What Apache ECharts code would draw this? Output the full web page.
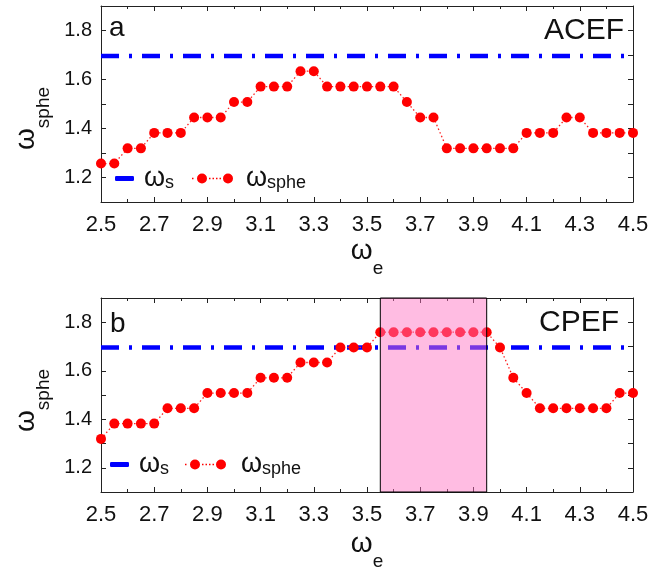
<!DOCTYPE html>
<html><head><meta charset="utf-8">
<script src="https://cdn.jsdelivr.net/npm/echarts@6/dist/echarts.min.js"></script>
<style>html,body{margin:0;padding:0;background:#fff}#c{width:650px;height:573px}</style>
</head><body><div id="c"></div>
<script>
// ---- data ----
const omegaE = [2.50,2.55,2.60,2.65,2.70,2.75,2.80,2.85,2.90,2.95,3.00,3.05,3.10,3.15,3.20,3.25,3.30,3.35,3.40,3.45,
  3.50,3.55,3.60,3.65,3.70,3.75,3.80,3.85,3.90,3.95,4.00,4.05,4.10,4.15,4.20,4.25,4.30,4.35,4.40,4.45,4.50];
const omegaSpheACEF = [1.257,1.257,1.319,1.319,1.382,1.382,1.382,1.445,1.445,1.445,1.508,1.508,1.571,1.571,1.571,1.634,1.634,1.571,1.571,1.571,
  1.571,1.571,1.571,1.508,1.445,1.445,1.319,1.319,1.319,1.319,1.319,1.319,1.382,1.382,1.382,1.445,1.445,1.382,1.382,1.382,1.382];
const omegaSpheCPEF = [1.319,1.382,1.382,1.382,1.382,1.445,1.445,1.445,1.508,1.508,1.508,1.508,1.571,1.571,1.571,1.634,1.634,1.634,1.696,1.696,
  1.696,1.759,1.759,1.759,1.759,1.759,1.759,1.759,1.759,1.759,1.696,1.571,1.508,1.445,1.445,1.445,1.445,1.445,1.445,1.508,1.508];
const omegaSX = [2.5, 4.5];
const omegaSY = [1.696, 1.696];
const shadedRangeCPEF = [3.55, 3.95];
const yTickLabels = ['1.2','1.4','1.6','1.8'];
const panelLetters = ['a','b'];
const panelTags = ['ACEF','CPEF'];
const seriesNames = ['ωs','ωsphe'];

// ---- chart ----
const FONT = "'Liberation Sans', Arial, sans-serif";
const grids = [
  {left:101, top:6, width:532, height:196},
  {left:101, top:298, width:532, height:194}
];
const axisColor = '#222';
const nameRich = {
  w:{fontSize:28, lineHeight:28, verticalAlign:'top', fontFamily:FONT, color:'#111'},
  s:{fontSize:19, lineHeight:19, verticalAlign:'top', padding:[22,0,0,0], fontFamily:FONT, color:'#111'}
};
const xAxes = [], yAxes = [];
const xNameGap = [35, 38];
const yNamePad = [29, 11];
grids.forEach((g, gi) => {
  const base = {
    type:'value', gridIndex:gi, min:2.5, max:4.5, interval:0.2,
    axisLine:{show:true, onZero:false, lineStyle:{color:axisColor, width:1}},
    axisTick:{show:true, inside:true, length:5, lineStyle:{color:axisColor}},
    minorTick:{show:true, splitNumber:2, length:3, lineStyle:{color:axisColor}},
    splitLine:{show:false}
  };
  xAxes.push(Object.assign({}, base, {
    position:'bottom',
    axisLabel:{fontSize:22, color:'#111', fontFamily:FONT, margin:12, formatter:v => Number(v).toFixed(1)},
    name:'{w|ω}{s|e}', nameLocation:'middle', nameGap:xNameGap[gi],
    nameTextStyle:{rich:nameRich}
  }));
  xAxes.push(Object.assign({}, base, {position:'top', axisLabel:{show:false}}));
  const ybase = {
    type:'value', gridIndex:gi, min:1.1, max:1.9, interval:0.1,
    axisLine:{show:true, onZero:false, lineStyle:{color:axisColor, width:1}},
    axisTick:{show:true, inside:true, length:5, lineStyle:{color:axisColor}},
    splitLine:{show:false}
  };
  yAxes.push(Object.assign({}, ybase, {
    position:'left',
    axisLabel:{fontSize:20, color:'#111', fontFamily:FONT, margin:9,
      formatter:v => { const t = Number(v).toFixed(1); return yTickLabels.indexOf(t) >= 0 ? t : ''; }},
    name:'{w|ω}{s|sphe}', nameLocation:'middle', nameGap:56,
    nameTextStyle:{rich:nameRich, padding:[0, yNamePad[gi], 0, 0]}
  }));
  yAxes.push(Object.assign({}, ybase, {position:'right', axisLabel:{show:false}}));
});

const spheData = [omegaSpheACEF, omegaSpheCPEF];
const series = [];
grids.forEach((g, gi) => {
  series.push({
    name:seriesNames[0], type:'line', xAxisIndex:gi*2, yAxisIndex:gi*2,
    data:omegaSX.map((x,i) => [x, omegaSY[i]]), showSymbol:false, symbol:'none',
    itemStyle:{color:'#0000FF'},
    lineStyle:{color:'#0000FF', width:4.5, type:[18,10,3,10], cap:'butt'},
    z:2, silent:true, animation:false
  });
  series.push({
    name:seriesNames[1], type:'line', xAxisIndex:gi*2, yAxisIndex:gi*2,
    data:omegaE.map((x,i) => [x, spheData[gi][i]]),
    symbol:'circle', symbolSize:10, showAllSymbol:true,
    itemStyle:{color:'#FF0000'},
    lineStyle:{color:'#FF2020', width:1.3, type:[1.5,2.5]},
    z:3, silent:true, animation:false
  });
});
series.push({
  type:'custom', xAxisIndex:2, yAxisIndex:2, z:5, silent:true, animation:false,
  encode:{x:[0,1]},
  data:[shadedRangeCPEF],
  renderItem:(params, api) => {
    const cs = params.coordSys;
    const a = api.coord([api.value(0), 1.5]);
    const b = api.coord([api.value(1), 1.5]);
    return {type:'rect', shape:{x:a[0], y:cs.y, width:b[0]-a[0], height:cs.height},
      style:{fill:'rgba(255,115,195,0.48)', stroke:'#000', lineWidth:1}};
  }
});

const legRich = {
  w:{fontSize:27, lineHeight:27, verticalAlign:'bottom', fontFamily:FONT, color:'#111'},
  s:{fontSize:18, lineHeight:18, verticalAlign:'bottom', fontFamily:FONT, color:'#111'}
};
const redIcon = 'path://M5,5a5,5 0 1,0 10,0a5,5 0 1,0 -10,0z M31,5a5,5 0 1,0 10,0a5,5 0 1,0 -10,0z M0,4.3h1.5v1.5h-1.5z M17,4.3h1.5v1.5h-1.5z M20.5,4.3h1.5v1.5h-1.5z M24,4.3h1.5v1.5h-1.5z M27.5,4.3h1.5v1.5h-1.5z';
const legendPos = [
  {blueLeft:115, redLeft:192, cy:178, bluePad:5, redPad:8},
  {blueLeft:110, redLeft:185, cy:464, bluePad:5, redPad:10}
];
const legends = [];
legendPos.forEach(p => {
  legends.push({
    left:p.blueLeft, top:p.cy-13, padding:0, selectedMode:false, itemWidth:19, itemHeight:5,
    data:[{name:seriesNames[0], icon:'roundRect', itemStyle:{color:'#0000FF', borderWidth:0}}],
    formatter:() => '{w|ω}{s|s}',
    textStyle:{rich:legRich, padding:[0,0,0,p.bluePad]}
  });
  legends.push({
    left:p.redLeft, top:p.cy-13, padding:0, selectedMode:false, itemWidth:41, itemHeight:10,
    data:[{name:seriesNames[1], icon:redIcon, itemStyle:{color:'#FF0000', borderWidth:0}}],
    formatter:() => '{w|ω}{s|sphe}',
    textStyle:{rich:legRich, padding:[0,0,0,p.redPad]}
  });
});

const graphics = [];
const letterPos = [{x:109, y:28.5}, {x:110, y:324}];
const tagPos = [{x:624, y:31}, {x:619, y:323}];
[0,1].forEach(i => {
  graphics.push({type:'text', x:letterPos[i].x, y:letterPos[i].y, silent:true,
    style:{text:panelLetters[i], font:'28px ' + FONT, fill:'#111', textAlign:'left', textVerticalAlign:'middle', verticalAlign:'middle'}});
  graphics.push({type:'text', x:tagPos[i].x, y:tagPos[i].y, silent:true,
    style:{text:panelTags[i], font:'30px ' + FONT, fill:'#111', textAlign:'right', textVerticalAlign:'middle', verticalAlign:'middle'}});
});

const chart = echarts.init(document.getElementById('c'), null, {renderer:'canvas'});
chart.setOption({
  animation:false,
  backgroundColor:'#fff',
  textStyle:{fontFamily:FONT},
  grid:grids.map(g => Object.assign({containLabel:false, outerBoundsMode:'none'}, g)),
  xAxis:xAxes, yAxis:yAxes,
  legend:legends,
  series:series,
  graphic:graphics
});
</script></body></html>
